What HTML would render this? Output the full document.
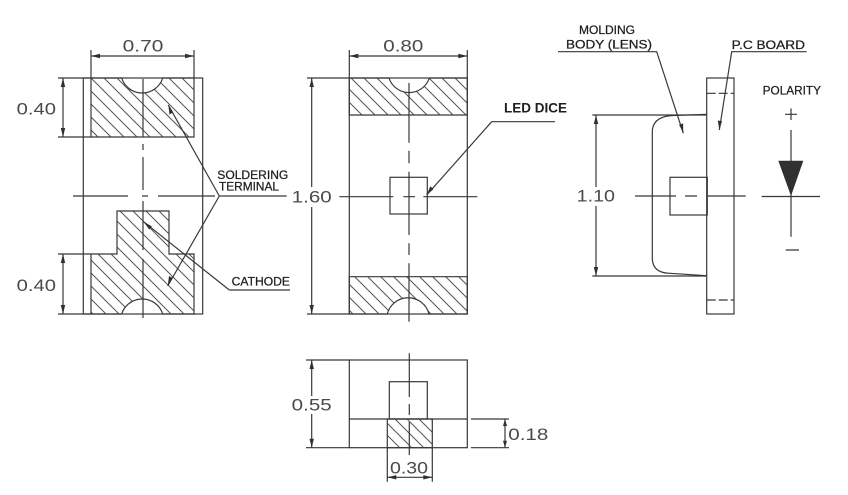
<!DOCTYPE html>
<html><head><meta charset="utf-8"><style>
html,body{margin:0;padding:0;background:#fff;width:848px;height:495px;overflow:hidden}
svg{display:block}
.n{font-family:"Liberation Sans",sans-serif;font-size:17px;fill:#4a4a4a}
.l{font-family:"Liberation Sans",sans-serif;font-size:11.5px;fill:#1e1e1e;stroke:#1e1e1e;stroke-width:0.25}
</style></head><body>
<svg width="848" height="495" viewBox="0 0 848 495" xmlns="http://www.w3.org/2000/svg">
<defs>
<pattern id="h" patternUnits="userSpaceOnUse" width="13" height="13">
<path d="M-1,-1 L14,14 M-1,12 L1,14 M12,-1 L14,1" stroke="#555" stroke-width="1" fill="none"/>
</pattern>
<pattern id="h2" patternUnits="userSpaceOnUse" width="12" height="12">
<path d="M-1,-1 L13,13 M-1,11 L1,13 M11,-1 L13,1" stroke="#555" stroke-width="1" fill="none"/>
</pattern>
</defs>
<g stroke="#383838" stroke-width="1.2" fill="none">
<!-- LEFT VIEW -->
<rect x="83.3" y="78" width="119.4" height="236"/>
<path d="M91,78 L121.7,78 A21.5,21.5 0 0 0 162.7,78 L194,78 L194,137 L91,137 Z" fill="url(#h)"/>
<path d="M117,211 L169,211 L169,254 L194,254 L194,314 L162.7,314 A21.5,21.5 0 0 0 121.7,314 L91,314 L91,254 L117,254 Z" fill="url(#h)"/>
<!-- centerlines left -->
<path d="M143,79 V137 M143,144 V150 M143,157 V190 M143,201 V250 M143,259 V318"/>
<path d="M73,196 H128 M142,196 H148 M158,196 H215"/>
<!-- dim 0.70 -->
<path d="M91,50 V78 M194,50 V78 M91,56 H194"/>
<!-- dim 0.40 top/bottom -->
<path d="M58,78 H91 M58,137 H91 M63,78 V137"/>
<path d="M58,254 H91 M58,314 H91 M63,254 V314"/>
<!-- leaders left -->
<path d="M219.3,196 H286.7 M219.3,196 L168.3,105 M219.3,196 L167.7,286"/>
<path d="M229.3,290 H290 M229.3,290 L143.5,221.7"/>

<!-- MIDDLE VIEW -->
<rect x="349.3" y="78" width="118" height="236"/>
<path d="M349.3,78 L389,78 A21.2,21.2 0 0 0 429.3,78 L467.3,78 L467.3,115 L349.3,115 Z" fill="url(#h)"/>
<path d="M349.3,276.7 L467.3,276.7 L467.3,314 L429,314 A21.5,21.5 0 0 0 387.3,314 L349.3,314 Z" fill="url(#h)"/>
<rect x="390" y="177.3" width="37.3" height="36.7"/>
<path d="M409,83 V142.7 M409,150.7 V163.3 M409,171.7 V235 M409,243.3 V255 M409,263.3 V321.7"/>
<path d="M339.3,196.7 H393.3 M403.3,196.7 H415 M423.3,196.7 H477.3"/>
<!-- dim 0.80 -->
<path d="M349.3,50 V78 M467.3,50 V78 M349.3,56 H467.3"/>
<!-- dim 1.60 -->
<path d="M307,78 H349.3 M307,314 H349.3 M311.7,78 V187 M311.7,207 V314"/>
<!-- LED DICE leader -->
<path d="M491.7,121.7 H555 M491.7,121.7 L426.7,195"/>

<!-- RIGHT VIEW -->
<rect x="706.7" y="78" width="27.3" height="236"/>
<path d="M706.7,93.3 H734 M706.7,300 H734" stroke-dasharray="9 3"/>
<path d="M706.7,114.3 L673,115.5 Q652.3,116.5 652.3,132 L652.3,258 Q652.3,273 670,273.3 L706.7,275.7"/>
<rect x="670" y="177.3" width="37.3" height="37.7"/>
<path d="M635,196 H676 M685,196 H697 M706.7,196 H745.7"/>
<!-- dim 1.10 -->
<path d="M592.3,115 H706 M592.3,276 H706 M596,115 V187 M596,206 V276"/>
<!-- leaders right -->
<path d="M558,51.7 H656.7 L683.3,133.3"/>
<path d="M806.7,51.7 H731.7 L719.3,130"/>
<!-- polarity -->
<path d="M785,114.3 H797 M791,108.5 V120"/>
<path d="M791,130 V236.7 M761.7,196.5 H820 M785.7,250 H799"/>

<!-- BOTTOM VIEW -->
<rect x="349.3" y="360" width="118" height="87.7"/>
<path d="M349.3,419 H467.3"/>
<rect x="389.3" y="381.7" width="38" height="37.3"/>
<rect x="387.3" y="419" width="45" height="28.7" fill="url(#h2)"/>
<path d="M409.3,353.3 V397 M409.3,404 V415 M409.3,422 V455"/>
<!-- dim 0.55 -->
<path d="M306,360 H349.3 M306,447.7 H349.3 M311.7,360 V396 M311.7,414 V447.7"/>
<!-- dim 0.18 -->
<path d="M471,419 H509 M471,447.7 H509 M505,419 V447.7"/>
<!-- dim 0.30 -->
<path d="M387.3,447.7 V481.7 M432.3,447.7 V481.7 M387.3,477.3 H432.3"/>
</g>

<!-- arrowheads -->
<g fill="#303030" stroke="none">
<!-- 0.70 -->
<path d="M91,56 l9,-2.2 v4.4 Z"/><path d="M194,56 l-9,-2.2 v4.4 Z"/>
<!-- 0.40 -->
<path d="M63,78 l-2.2,9 h4.4 Z"/><path d="M63,137 l-2.2,-9 h4.4 Z"/>
<path d="M63,254 l-2.2,9 h4.4 Z"/><path d="M63,314 l-2.2,-9 h4.4 Z"/>
<!-- 0.80 -->
<path d="M349.3,56 l9,-2.2 v4.4 Z"/><path d="M467.3,56 l-9,-2.2 v4.4 Z"/>
<!-- 1.60 -->
<path d="M311.7,78 l-2.2,9 h4.4 Z"/><path d="M311.7,314 l-2.2,-9 h4.4 Z"/>
<!-- 1.10 -->
<path d="M596,115 l-2.2,9 h4.4 Z"/><path d="M596,276 l-2.2,-9 h4.4 Z"/>
<!-- 0.55 -->
<path d="M311.7,360 l-2.2,9 h4.4 Z"/><path d="M311.7,447.7 l-2.2,-9 h4.4 Z"/>
<!-- 0.18 -->
<path d="M505,419 l-2,7 h4 Z"/><path d="M505,447.7 l-2,-7 h4 Z"/>
<!-- 0.30 -->
<path d="M387.3,477.3 l9,-2.2 v4.4 Z"/><path d="M432.3,477.3 l-9,-2.2 v4.4 Z"/>
<!-- leader arrows -->
<path d="M168.3,105 l1.2,9.5 l3.8,-2.1 Z"/>
<path d="M167.7,286 l5.1,-8 l-3.8,-2 Z"/>
<path d="M143.5,221.7 l8.3,4.6 l-2.5,3.3 Z"/>
<path d="M426.7,195 l3.6,-8.7 l3.2,2.8 Z"/>
<path d="M683.3,133.3 l-4.2,-8.6 l4,-1.3 Z"/>
<path d="M719.3,130 l-1.5,-9.5 l4.2,0.7 Z"/>
<!-- diode -->
<path d="M778.3,160.7 H803.3 L791,196 Z"/>
</g>

<!-- numbers -->
<text class="n" x="122.7" y="51.7" textLength="40.7" lengthAdjust="spacingAndGlyphs">0.70</text>
<text class="n" x="383.3" y="51.7" textLength="40" lengthAdjust="spacingAndGlyphs">0.80</text>
<text class="n" x="16.7" y="114.3" textLength="39.3" lengthAdjust="spacingAndGlyphs">0.40</text>
<text class="n" x="16.7" y="291" textLength="39.3" lengthAdjust="spacingAndGlyphs">0.40</text>
<text class="n" x="291.7" y="202.3" textLength="40" lengthAdjust="spacingAndGlyphs">1.60</text>
<text class="n" x="576.7" y="201.7" textLength="38.3" lengthAdjust="spacingAndGlyphs">1.10</text>
<text class="n" x="291.7" y="410.5" textLength="40" lengthAdjust="spacingAndGlyphs">0.55</text>
<text class="n" x="508.3" y="440" textLength="40" lengthAdjust="spacingAndGlyphs">0.18</text>
<text class="n" x="390" y="473.5" textLength="38" lengthAdjust="spacingAndGlyphs">0.30</text>

<!-- labels -->
<text class="l" x="217.3" y="179" textLength="71" lengthAdjust="spacingAndGlyphs">SOLDERING</text>
<text class="l" x="219" y="190.7" textLength="60" lengthAdjust="spacingAndGlyphs">TERMINAL</text>
<text class="l" x="231.7" y="285.7" textLength="58.3" lengthAdjust="spacingAndGlyphs">CATHODE</text>
<text class="l" x="504" y="112.3" textLength="63" lengthAdjust="spacingAndGlyphs" style="font-size:13.5px;font-weight:bold;stroke-width:0">LED DICE</text>
<text class="l" x="579" y="34" textLength="56" lengthAdjust="spacingAndGlyphs">MOLDING</text>
<text class="l" x="566" y="48.5" textLength="86" lengthAdjust="spacingAndGlyphs">BODY (LENS)</text>
<text class="l" x="731.7" y="49" textLength="73.3" lengthAdjust="spacingAndGlyphs">P.C BOARD</text>
<text class="l" x="762.7" y="94.3" textLength="58.3" lengthAdjust="spacingAndGlyphs">POLARITY</text>
</svg>
</body></html>
